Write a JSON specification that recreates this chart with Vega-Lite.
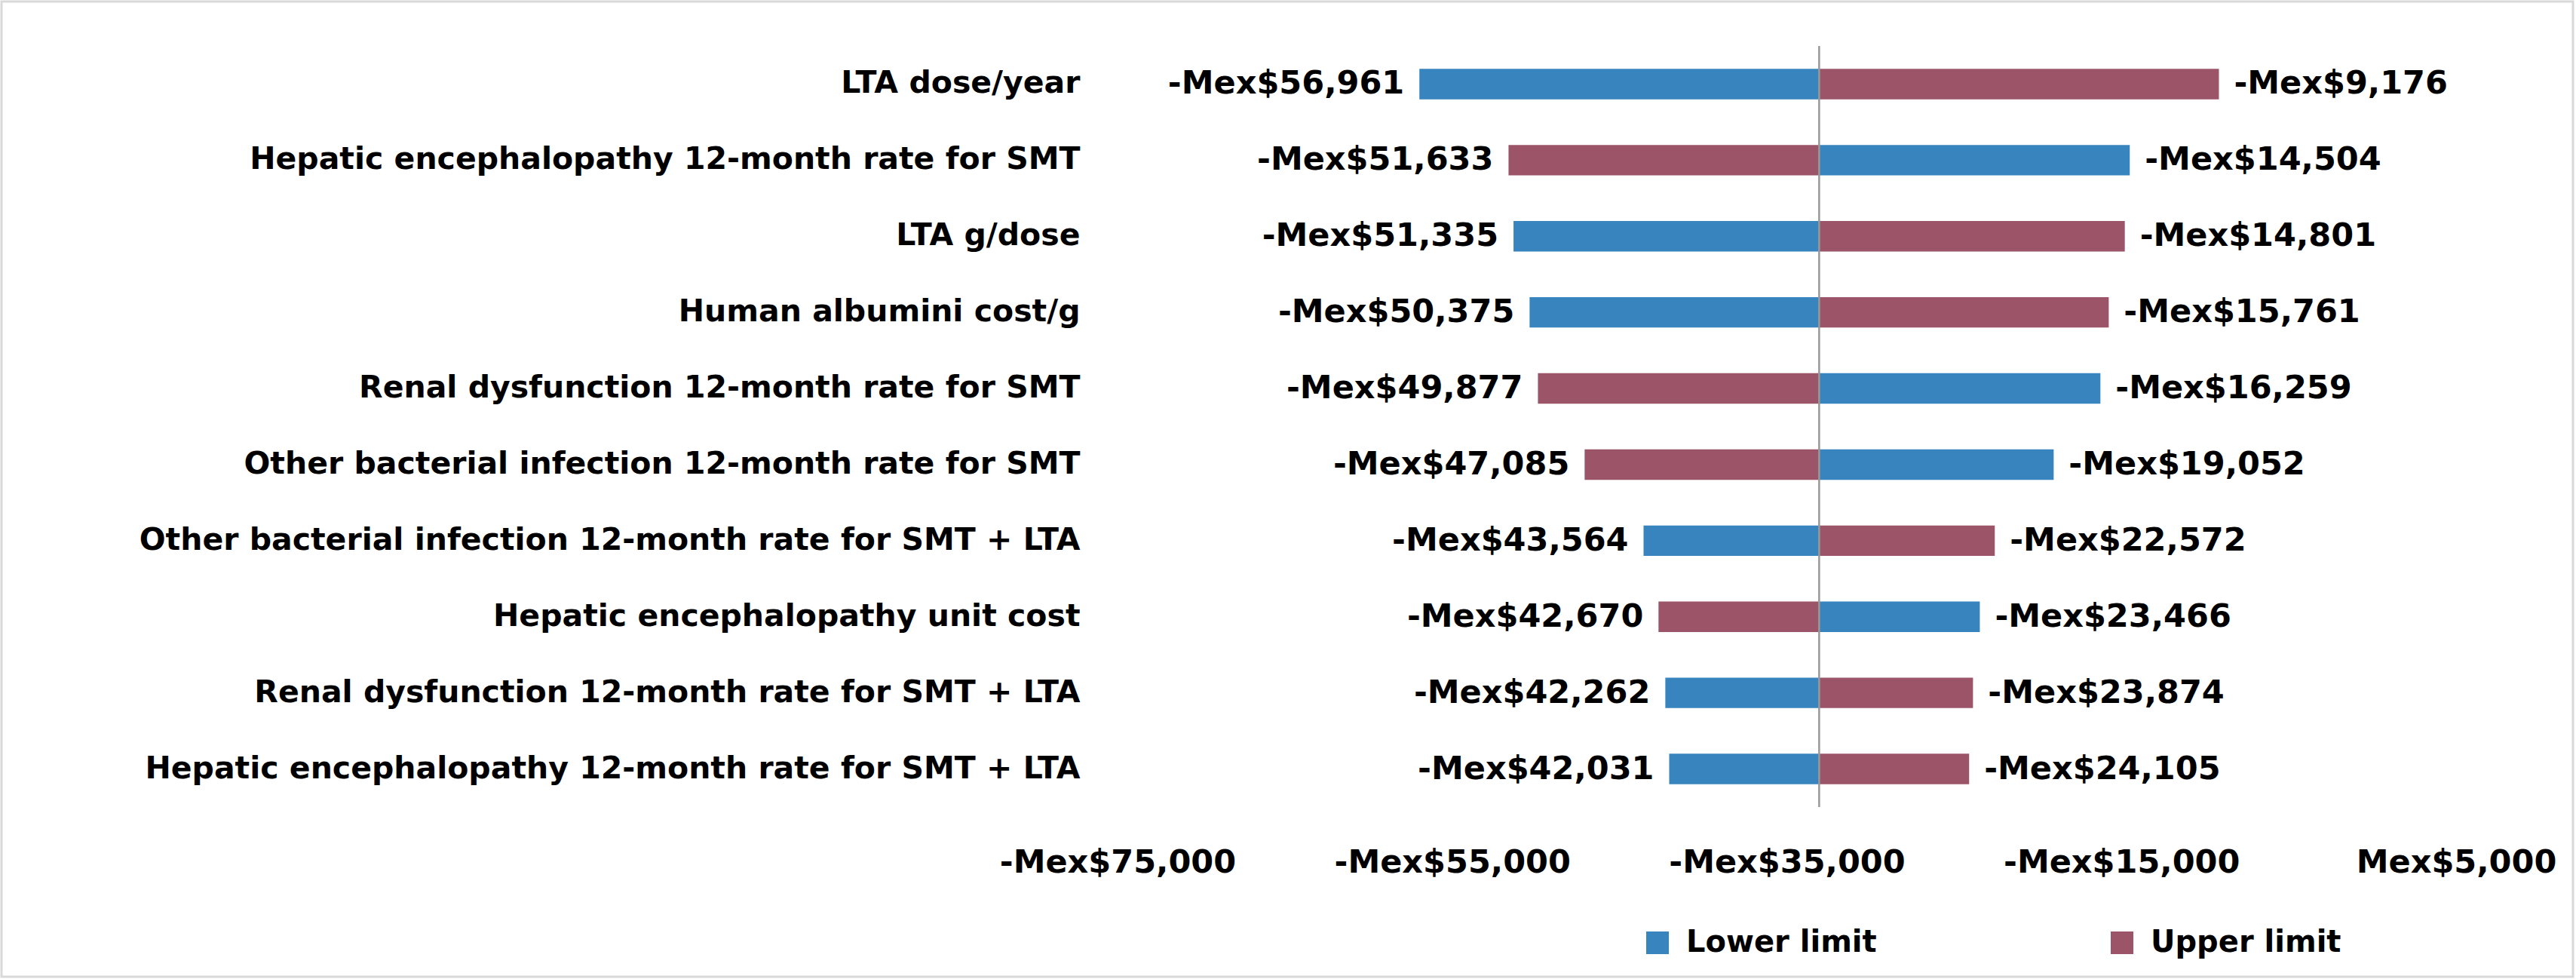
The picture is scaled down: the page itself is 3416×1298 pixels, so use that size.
{
  "$schema": "https://vega.github.io/schema/vega-lite/v6.json",
  "width": 3410,
  "height": 1293,
  "autosize": {"type": "none"},
  "padding": {"left": 2, "top": 2, "right": 4, "bottom": 3},
  "background": "white",
  "config": {
    "view": {"stroke": "#D9D9D9", "strokeWidth": 3},
    "font": "DejaVu Sans"
  },
  "data": {
    "values": [
      {"param": "LTA dose/year", "series": "Lower limit", "value": -56961},
      {"param": "LTA dose/year", "series": "Upper limit", "value": -9176},
      {"param": "Hepatic encephalopathy 12-month rate for SMT\u2002", "series": "Upper limit", "value": -51633},
      {"param": "Hepatic encephalopathy 12-month rate for SMT\u2002", "series": "Lower limit", "value": -14504},
      {"param": "LTA g/dose", "series": "Lower limit", "value": -51335},
      {"param": "LTA g/dose", "series": "Upper limit", "value": -14801},
      {"param": "Human albumini cost/g", "series": "Lower limit", "value": -50375},
      {"param": "Human albumini cost/g", "series": "Upper limit", "value": -15761},
      {"param": "Renal dysfunction 12-month rate for SMT\u2002", "series": "Upper limit", "value": -49877},
      {"param": "Renal dysfunction 12-month rate for SMT\u2002", "series": "Lower limit", "value": -16259},
      {"param": "Other bacterial infection 12-month rate for SMT", "series": "Upper limit", "value": -47085},
      {"param": "Other bacterial infection 12-month rate for SMT", "series": "Lower limit", "value": -19052},
      {"param": "Other bacterial infection 12-month rate for SMT + LTA", "series": "Lower limit", "value": -43564},
      {"param": "Other bacterial infection 12-month rate for SMT + LTA", "series": "Upper limit", "value": -22572},
      {"param": "Hepatic encephalopathy unit cost", "series": "Upper limit", "value": -42670},
      {"param": "Hepatic encephalopathy unit cost", "series": "Lower limit", "value": -23466},
      {"param": "Renal dysfunction 12-month rate for SMT + LTA", "series": "Lower limit", "value": -42262},
      {"param": "Renal dysfunction 12-month rate for SMT + LTA", "series": "Upper limit", "value": -23874},
      {"param": "Hepatic encephalopathy 12-month rate for SMT + LTA", "series": "Lower limit", "value": -42031},
      {"param": "Hepatic encephalopathy 12-month rate for SMT + LTA", "series": "Upper limit", "value": -24105}
    ]
  },
  "layer": [
    {
      "transform": [
        {"calculate": "(datum.value < 0 ? '-' : '') + 'Mex$' + format(abs(datum.value), ',')", "as": "label"}
      ],
      "encoding": {
        "y": {
          "field": "param",
          "type": "nominal",
          "sort": null,
          "scale": {"range": [59, 1068], "paddingInner": 0.6, "paddingOuter": 0.3},
          "axis": {
            "title": null,
            "domain": false,
            "ticks": false,
            "tickSize": 0,
            "grid": false,
            "offset": -1480,
            "labelPadding": 50,
            "labelFont": "DejaVu Sans",
            "labelFontSize": 41,
            "labelFontWeight": "bold",
            "labelColor": "#000000",
            "labelLimit": 3000
          }
        },
        "x": {
          "field": "value",
          "type": "quantitative",
          "scale": {"domain": [-75000, 5000], "range": [1480, 3255], "nice": false, "zero": false},
          "axis": {
            "orient": "bottom",
            "title": null,
            "domain": false,
            "ticks": false,
            "tickSize": 0,
            "grid": false,
            "values": [-75000, -55000, -35000, -15000, 5000],
            "labelExpr": "(datum.value < 0 ? '-' : '') + 'Mex$' + format(abs(datum.value), ',')",
            "labelFlush": false,
            "labelOverlap": false,
            "labelLimit": 1000,
            "offset": -225,
            "labelPadding": 52,
            "labelFont": "DejaVu Sans",
            "labelFontSize": 43,
            "labelFontWeight": "bold",
            "labelColor": "#000000"
          }
        }
      },
      "layer": [
        {
          "mark": {"type": "bar"},
          "encoding": {
            "x2": {"datum": -33068.5},
            "color": {
              "field": "series",
              "type": "nominal",
              "scale": {"domain": ["Lower limit", "Upper limit"], "range": ["#3784BE", "#9B5468"]},
              "legend": {
                "orient": "none",
                "legendX": 2176,
                "legendY": 1228,
                "direction": "horizontal",
                "title": null,
                "symbolType": "square",
                "symbolSize": 900,
                "symbolStrokeWidth": 0,
                "labelFont": "DejaVu Sans",
                "labelFontSize": 40,
                "labelFontWeight": "bold",
                "labelColor": "#000000",
                "labelLimit": 1000,
                "labelOffset": 18,
                "columnPadding": 305,
                "padding": 0
              }
            }
          }
        },
        {
          "transform": [{"filter": "datum.value < -33068.5"}],
          "mark": {"type": "text", "align": "right", "baseline": "middle", "dx": -20, "font": "DejaVu Sans", "fontSize": 43, "fontWeight": "bold", "color": "#000000"},
          "encoding": {"text": {"field": "label"}}
        },
        {
          "transform": [{"filter": "datum.value >= -33068.5"}],
          "mark": {"type": "text", "align": "left", "baseline": "middle", "dx": 20, "font": "DejaVu Sans", "fontSize": 43, "fontWeight": "bold", "color": "#000000"},
          "encoding": {"text": {"field": "label"}}
        }
      ]
    },
    {
      "data": {"values": [{"base": -33068.5}]},
      "mark": {"type": "rule", "color": "#999999", "strokeWidth": 2.5},
      "encoding": {
        "x": {"field": "base", "type": "quantitative"},
        "y": {"datum": 0, "type": "quantitative", "scale": {"domain": [0, 1], "range": [1068, 59]}, "axis": null},
        "y2": {"datum": 1}
      }
    }
  ],
  "resolve": {"scale": {"y": "independent"}}
}
